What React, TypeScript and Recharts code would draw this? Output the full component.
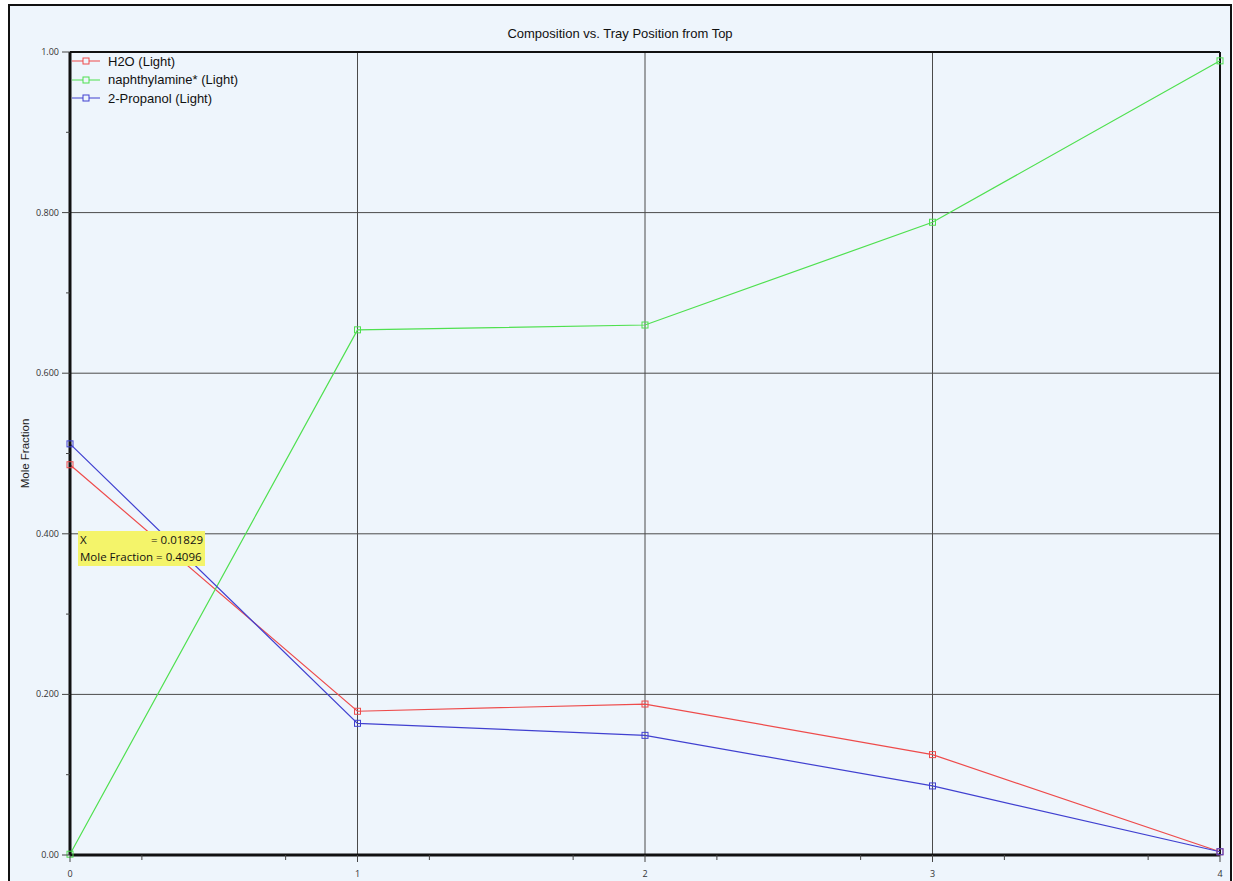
import React from "react";
import {
  LineChart,
  Line,
  XAxis,
  YAxis,
  CartesianGrid,
  ReferenceLine,
} from "recharts";

const trays = [0, 1, 2, 3, 4];
const h2o = [0.486, 0.179, 0.188, 0.125, 0.004];
const naphthylamine = [0.001, 0.654, 0.66, 0.788, 0.989];
const propanol = [0.512, 0.164, 0.149, 0.086, 0.004];

const xTicks = [0, 1, 2, 3, 4];
const xMinorTicks = [0.25, 0.75, 1.25, 1.75, 2.25, 2.75, 3.25, 3.75];
const yTicks = [0, 0.2, 0.4, 0.6, 0.8, 1];
const yMinorTicks = [0.1, 0.3, 0.5, 0.7, 0.9];

const SERIES = [
  { key: "h2o", name: "H2O (Light)", color: "#ee4b4b" },
  { key: "naph", name: "naphthylamine* (Light)", color: "#4fe04f" },
  { key: "prop", name: "2-Propanol (Light)", color: "#4040d0" },
];

const data = trays.map((t, i) => ({
  x: t,
  h2o: h2o[i],
  naph: naphthylamine[i],
  prop: propanol[i],
}));

const BG = "#eef5fc";
const TICK_FONT = "Open Sans, sans-serif";
const allX = [...xTicks, ...xMinorTicks].sort((a, b) => a - b);
const allY = [...yTicks, ...yMinorTicks].sort((a, b) => a - b);

function squareDot(color: string) {
  return (props: any) => {
    const { cx, cy, index } = props;
    if (cx == null || cy == null) return <g key={index} />;
    return (
      <rect
        key={index}
        x={cx - 3}
        y={cy - 3}
        width={6}
        height={6}
        fill="none"
        stroke={color}
        strokeWidth={1}
      />
    );
  };
}

// x tick: tickSize 8 + tickMargin 4 below the axis line
function XTick(props: any) {
  const { x, y, payload } = props;
  const v = payload.value;
  const major = xTicks.includes(v);
  const axisY = y - 12;
  return (
    <g>
      <line x1={x} x2={x} y1={axisY} y2={axisY + (major ? 7 : 5)} stroke="#444" />
      {major && (
        <text x={x} y={axisY + 22} textAnchor="middle" fontSize={9} fill="#333" fontFamily={TICK_FONT}>
          {v}
        </text>
      )}
    </g>
  );
}

// y tick: tickSize 8 + tickMargin 3 left of the axis line
function YTick(props: any) {
  const { x, y, payload } = props;
  const v = payload.value;
  const major = yTicks.includes(v);
  const axisX = x + 11;
  const label = v === 0 || v === 1 ? v.toFixed(2) : v.toFixed(3);
  return (
    <g>
      <line x1={axisX - (major ? 8 : 4)} x2={axisX} y1={y} y2={y} stroke="#444" />
      {major && (
        <text x={x} y={y + 3} textAnchor="end" fontSize={9} fill="#333" fontFamily={TICK_FONT}>
          {label}
        </text>
      )}
    </g>
  );
}

function LegendBox() {
  return (
    <div
      style={{
        position: "absolute",
        left: 72,
        top: 52,
        fontFamily: "Liberation Sans, Arial, sans-serif",
        fontSize: 13,
        color: "#111",
      }}
    >
      {SERIES.map((s) => (
        <div key={s.key} style={{ display: "flex", alignItems: "center", height: 18.5 }}>
          <svg width={30} height={10} style={{ marginRight: 6 }}>
            <line x1={0} y1={5} x2={28} y2={5} stroke={s.color} strokeWidth={1} />
            <rect x={11} y={2} width={6} height={6} fill={BG} stroke={s.color} />
          </svg>
          <span>{s.name}</span>
        </div>
      ))}
    </div>
  );
}

export default function App() {
  return (
    <div
      style={{
        position: "absolute",
        left: 0,
        top: 0,
        width: 1233,
        height: 881,
        overflow: "hidden",
        background: "#fff",
      }}
    >
      <div
        style={{
          position: "absolute",
          left: 8,
          top: 4,
          width: 1220,
          height: 920,
          border: "2px solid #111",
          background: BG,
        }}
      />
      <div
        style={{
          position: "absolute",
          left: 0,
          top: 26,
          width: 1240,
          textAlign: "center",
          fontFamily: "Liberation Sans, Arial, sans-serif",
          fontSize: 13,
          color: "#111",
        }}
      >
        Composition vs. Tray Position from Top
      </div>
      <div style={{ position: "absolute", left: 0, top: 0 }}>
        <LineChart
          width={1233}
          height={881}
          data={data}
          margin={{ top: 52, right: 13, left: 0, bottom: 0 }}
        >
          <CartesianGrid
            stroke="#4a4a4a"
            strokeWidth={1}
            horizontalValues={[0.2, 0.4, 0.6, 0.8]}
            verticalValues={[1, 2, 3]}
          />
          <XAxis
            dataKey="x"
            type="number"
            domain={[0, 4]}
            ticks={allX}
            height={26}
            tick={<XTick />}
            tickSize={8}
            tickMargin={4}
            tickLine={false}
            axisLine={{ stroke: "#111", strokeWidth: 3 }}
            interval={0}
          />
          <YAxis
            type="number"
            domain={[0, 1]}
            ticks={allY}
            width={70}
            tick={<YTick />}
            tickSize={8}
            tickMargin={3}
            tickLine={false}
            axisLine={{ stroke: "#111", strokeWidth: 3 }}
            interval={0}
            label={{
              value: "Mole Fraction",
              angle: -90,
              position: "insideLeft",
              offset: 25,
              style: {
                fontSize: 11.5,
                fill: "#222",
                fontFamily: "Liberation Sans, Arial, sans-serif",
                textAnchor: "middle",
              },
            }}
          />
          <ReferenceLine y={1} stroke="#111" strokeWidth={2} />
          <ReferenceLine x={4} stroke="#111" strokeWidth={2} />
          {SERIES.map((s) => (
            <Line
              key={s.key}
              dataKey={s.key}
              name={s.name}
              stroke={s.color}
              strokeWidth={1.2}
              dot={squareDot(s.color)}
              activeDot={false}
              isAnimationActive={false}
            />
          ))}
        </LineChart>
      </div>
      <LegendBox />
      <div
        style={{
          position: "absolute",
          left: 78,
          top: 531,
          width: 127,
          height: 35,
          background: "#f4f46a",
          fontFamily: "Open Sans, sans-serif",
          fontSize: 11.5,
          color: "#111",
          lineHeight: "17px",
          whiteSpace: "nowrap",
        }}
      >
        <span style={{ position: "absolute", left: 2, top: 0 }}>X</span>
        <span style={{ position: "absolute", left: 73, top: 0 }}>= 0.01829</span>
        <span style={{ position: "absolute", left: 2, top: 17 }}>Mole Fraction = 0.4096</span>
      </div>
    </div>
  );
}
